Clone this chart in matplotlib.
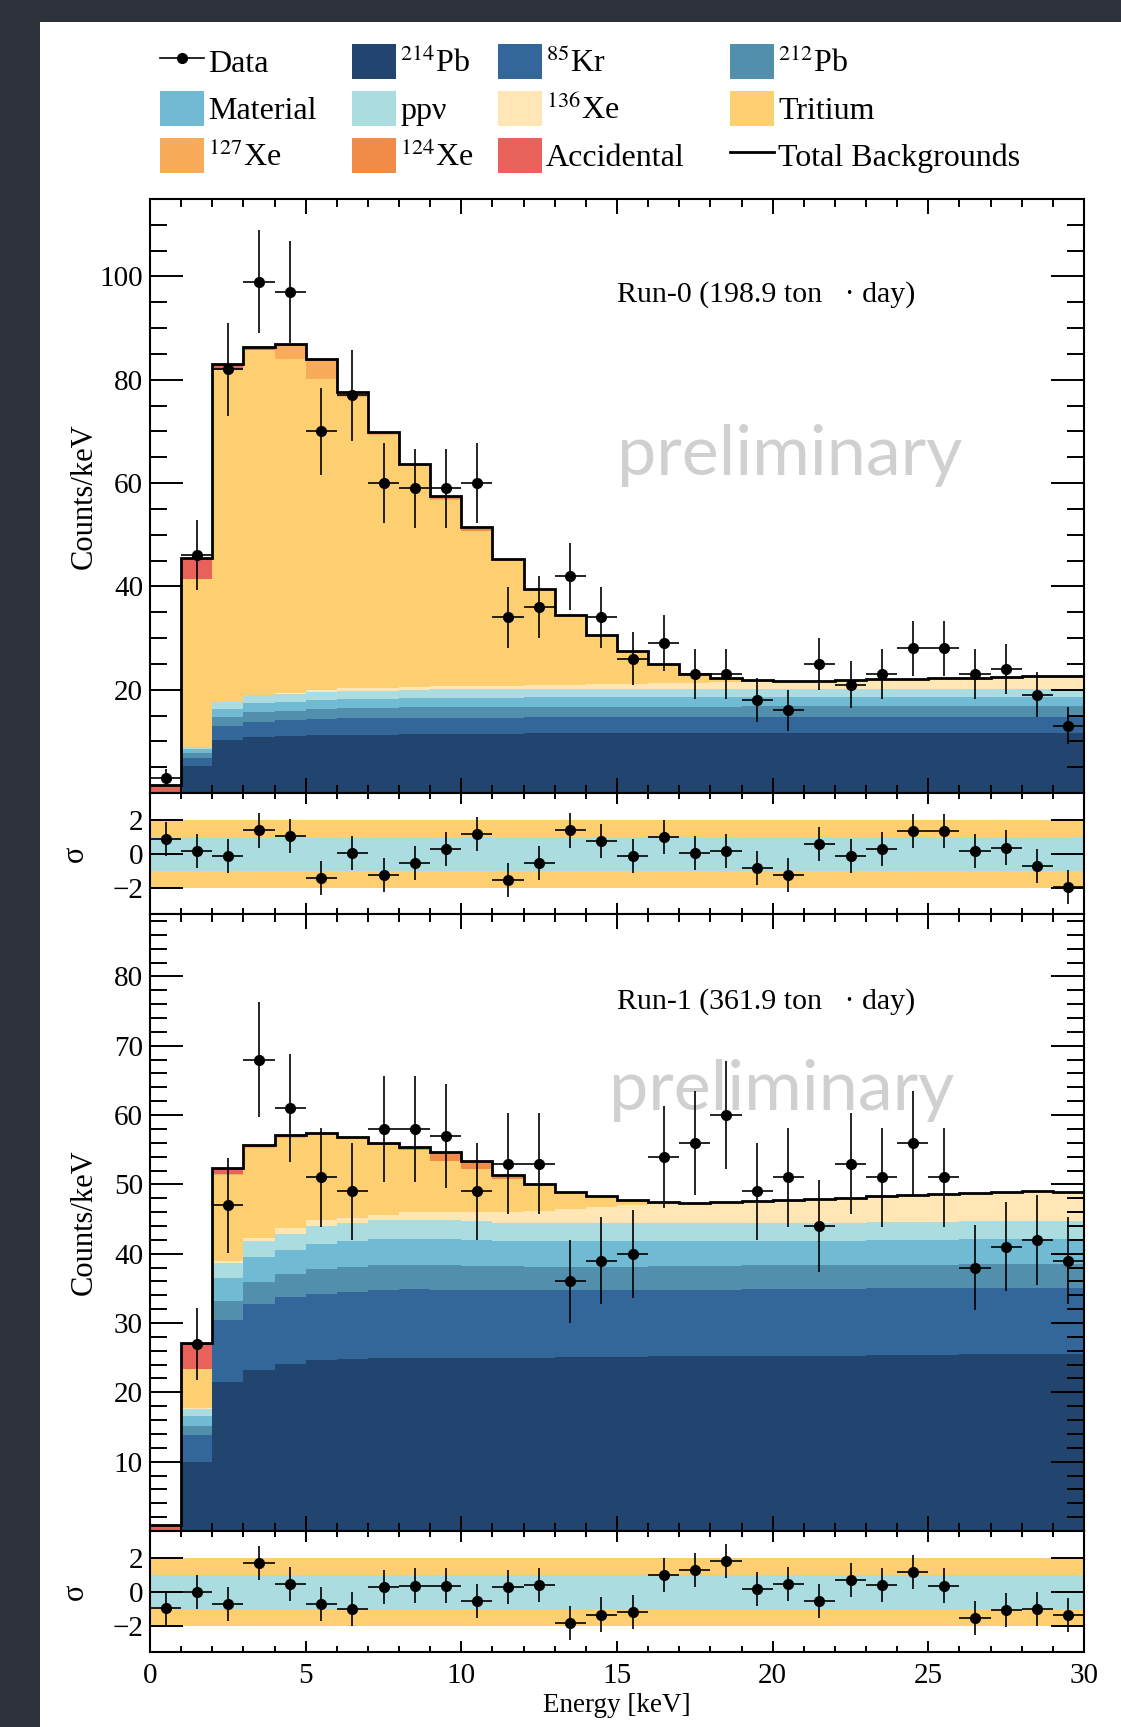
import numpy as np
import matplotlib
matplotlib.use('Agg')
import matplotlib.pyplot as plt
from matplotlib.patches import Patch, Rectangle
from matplotlib.lines import Line2D
from matplotlib.ticker import MultipleLocator, FixedLocator

plt.rcParams['font.family'] = ['Liberation Serif', 'DejaVu Serif']
plt.rcParams['mathtext.fontset'] = 'stix'

# 1 keV bins from 0 to 30 keV
bin_edges = np.arange(0, 31, 1)
bin_centers = bin_edges[:-1] + 0.5

# ---------------- Run-0 ----------------
data_run0 = [3, 46, 82, 99, 97, 70, 77, 60, 59, 59, 60, 34, 36, 42, 34,
             26, 29, 23, 23, 18, 16, 25, 21, 23, 28, 28, 23, 24, 19, 13]
pb214_run0 = [0, 5.3, 10.3, 10.8, 11.0, 11.2, 11.3, 11.3, 11.5, 11.5, 11.5, 11.5, 11.6, 11.6, 11.6,
              11.6, 11.6, 11.6, 11.6, 11.7, 11.7, 11.7, 11.7, 11.7, 11.7, 11.7, 11.7, 11.7, 11.7, 11.7]
kr85_run0 = [0, 1.4, 2.7, 3.0, 3.1, 3.2, 3.2, 3.2, 3.1, 3.1, 3.1, 3.1, 3.1, 3.1, 3.1,
             3.1, 3.1, 3.1, 3.1, 3.1, 3.1, 3.1, 3.1, 3.1, 3.1, 3.1, 3.1, 3.1, 3.1, 3.1]
pb212_run0 = [0, 1.1, 1.8, 1.8, 1.8, 1.8, 1.9, 1.9, 2.0, 2.0, 2.0, 2.0, 2.0, 2.0, 2.0,
              2.0, 2.0, 2.0, 2.0, 2.0, 2.0, 2.0, 2.0, 2.0, 2.0, 2.0, 2.0, 2.0, 2.0, 2.0]
material_run0 = [0, 0.8, 1.5, 1.8, 1.8, 1.8, 1.8, 1.8, 1.8, 1.8, 1.8, 1.8, 1.8, 1.8, 1.8,
                 1.8, 1.8, 1.8, 1.8, 1.7, 1.7, 1.7, 1.7, 1.7, 1.7, 1.7, 1.7, 1.7, 1.7, 1.7]
ppv_run0 = [0, 0.4, 1.3, 1.5, 1.5, 1.6, 1.6, 1.6, 1.6, 1.7, 1.7, 1.7, 1.7, 1.7, 1.7,
            1.7, 1.7, 1.7, 1.7, 1.7, 1.7, 1.7, 1.7, 1.7, 1.7, 1.7, 1.7, 1.7, 1.7, 1.7]
xe136_run0 = [0, 0, 0.1, 0.15, 0.2, 0.4, 0.45, 0.5, 0.6, 0.6, 0.7, 0.7, 0.8, 0.8, 0.9,
              0.9, 1.0, 1.1, 1.2, 1.3, 1.4, 1.5, 1.6, 1.8, 1.9, 2.0, 2.1, 2.3, 2.4, 2.5]
tritium_run0 = [0, 32.5, 64.2, 66.7, 64.6, 60.2, 56.4, 49.1, 42.7, 36.1, 30.0, 24.4, 18.4, 13.4, 9.4,
                6.2, 3.6, 1.7, 0.8, 0.3, 0.1, 0, 0, 0, 0, 0, 0, 0, 0, 0]
xe127_run0 = [0, 0, 0, 0.1, 2.6, 3.5, 0.8, 0.3, 0.2, 0.1, 0, 0, 0, 0, 0,
              0, 0, 0, 0, 0, 0, 0, 0, 0, 0, 0, 0, 0, 0, 0]
xe124_run0 = [0, 0, 0, 0, 0, 0, 0, 0, 0, 0.4, 0.5, 0, 0, 0, 0,
              0, 0, 0, 0, 0, 0, 0, 0, 0, 0, 0, 0, 0, 0, 0]
acc_run0 = [1.5, 4.0, 1.1, 0.5, 0.3, 0.3, 0.2, 0.2, 0.2, 0.2, 0.2, 0.1, 0.1, 0.1, 0.1,
            0.1, 0.1, 0.1, 0.1, 0, 0, 0, 0, 0, 0, 0, 0, 0, 0, 0]
pull_run0 = [0.9, 0.2, -0.1, 1.4, 1.1, -1.4, 0.1, -1.2, -0.5, 0.3, 1.2, -1.5, -0.5, 1.4, 0.8,
             -0.1, 1.0, 0.1, 0.2, -0.8, -1.2, 0.6, -0.1, 0.3, 1.35, 1.35, 0.2, 0.4, -0.7, -1.9]

# ---------------- Run-1 ----------------
data_run1 = [0, 27, 47, 68, 61, 51, 49, 58, 58, 57, 49, 53, 53, 36, 39,
             40, 54, 56, 60, 49, 51, 44, 53, 51, 56, 51, 38, 41, 42, 39]
pb214_run1 = [0, 9.9, 21.5, 23.2, 24.1, 24.6, 24.8, 25.0, 25.0, 25.0, 25.0, 25.0, 25.0, 25.1, 25.1,
              25.1, 25.2, 25.2, 25.2, 25.3, 25.3, 25.3, 25.3, 25.4, 25.4, 25.4, 25.5, 25.5, 25.5, 25.5]
kr85_run1 = [0, 3.9, 8.9, 9.6, 9.6, 9.6, 9.7, 9.8, 9.9, 9.8, 9.7, 9.7, 9.7, 9.6, 9.6,
             9.6, 9.6, 9.6, 9.6, 9.6, 9.6, 9.6, 9.6, 9.6, 9.6, 9.6, 9.6, 9.6, 9.6, 9.6]
pb212_run1 = [0, 1.4, 2.8, 3.1, 3.4, 3.6, 3.6, 3.5, 3.4, 3.5, 3.5, 3.5, 3.4, 3.4, 3.4,
              3.4, 3.4, 3.4, 3.4, 3.4, 3.4, 3.4, 3.4, 3.4, 3.4, 3.4, 3.4, 3.4, 3.4, 3.4]
material_run1 = [0, 1.4, 3.3, 3.6, 3.4, 3.6, 3.7, 3.8, 3.8, 3.8, 3.8, 3.7, 3.7, 3.8, 3.7,
                 3.8, 3.6, 3.6, 3.6, 3.6, 3.6, 3.6, 3.6, 3.6, 3.6, 3.6, 3.6, 3.6, 3.6, 3.6]
ppv_run1 = [0, 1.0, 2.2, 2.4, 2.4, 2.6, 2.7, 2.7, 2.8, 2.8, 2.7, 2.6, 2.6, 2.6, 2.6,
            2.6, 2.6, 2.6, 2.6, 2.6, 2.6, 2.6, 2.6, 2.6, 2.6, 2.6, 2.6, 2.6, 2.6, 2.6]
xe136_run1 = [0, 0.1, 0.3, 0.3, 0.8, 0.8, 0.7, 0.8, 1.1, 1.1, 1.3, 1.5, 1.7, 1.9, 2.3,
              2.5, 2.8, 2.8, 3.1, 3.1, 3.3, 3.4, 3.6, 3.7, 3.8, 4.0, 4.0, 4.2, 4.3, 4.2]
tritium_run1 = [0, 5.6, 12.4, 13.0, 13.0, 12.3, 11.4, 10.1, 9.0, 7.4, 6.2, 4.8, 3.8, 2.4, 1.5,
                0.7, 0.3, 0.1, 0, 0, 0, 0, 0, 0, 0, 0, 0, 0, 0, 0]
xe127_run1 = [0, 0, 0.1, 0.2, 0.2, 0.2, 0.1, 0, 0, 0, 0, 0, 0, 0, 0,
              0, 0, 0, 0, 0, 0, 0, 0, 0, 0, 0, 0, 0, 0, 0]
xe124_run1 = [0, 0, 0, 0, 0, 0, 0, 0.2, 0.3, 1.2, 1.1, 0.4, 0, 0, 0,
              0, 0, 0, 0, 0, 0, 0, 0, 0, 0, 0, 0, 0, 0, 0]
acc_run1 = [0.8, 3.8, 0.9, 0.3, 0.2, 0.1, 0.1, 0.1, 0.1, 0.1, 0.1, 0.1, 0.1, 0.1, 0.1,
            0.1, 0, 0, 0, 0, 0, 0, 0, 0, 0, 0, 0, 0, 0, 0]
pull_run1 = [-0.9, 0.0, -0.7, 1.7, 0.5, -0.7, -1.0, 0.3, 0.4, 0.4, -0.5, 0.3, 0.45, -1.8, -1.3,
             -1.15, 1.0, 1.3, 1.85, 0.2, 0.5, -0.5, 0.75, 0.45, 1.2, 0.4, -1.5, -1.05, -0.95, -1.35]

component_names = [r'$^{214}$Pb', r'$^{85}$Kr', r'$^{212}$Pb', 'Material', 'ppν',
                   r'$^{136}$Xe', 'Tritium', r'$^{127}$Xe', r'$^{124}$Xe', 'Accidental']
component_colors = ['#21456e', '#336699', '#528fad', '#70bad4', '#aadce0',
                    '#ffe6b4', '#fecf71', '#f8ab5a', '#f08c47', '#e8615a']

run0_layers = [pb214_run0, kr85_run0, pb212_run0, material_run0, ppv_run0,
               xe136_run0, tritium_run0, xe127_run0, xe124_run0, acc_run0]
run1_layers = [pb214_run1, kr85_run1, pb212_run1, material_run1, ppv_run1,
               xe136_run1, tritium_run1, xe127_run1, xe124_run1, acc_run1]

FS_TICK = 21
FS_YLAB = 22
FS_XLAB = 19.5


def style_axis(ax, ylen_major=24, ylen_minor=12, xlen_major=11, xlen_minor=6):
    for sp in ax.spines.values():
        sp.set_linewidth(1.5)
    ax.set_xlim(0, 30)
    ax.xaxis.set_major_locator(MultipleLocator(5))
    ax.xaxis.set_minor_locator(MultipleLocator(1))
    ax.tick_params(which='both', direction='in', top=True, right=True, width=1.4,
                   labelsize=FS_TICK, pad=5)
    ax.tick_params(axis='x', which='major', length=xlen_major)
    ax.tick_params(axis='x', which='minor', length=xlen_minor)
    ax.tick_params(axis='y', which='major', length=ylen_major)
    ax.tick_params(axis='y', which='minor', length=ylen_minor)


def draw_main(ax, layers, data, run_text, ylim, yticks, yminor, prelim_xy):
    base = np.zeros(len(bin_centers))
    for vals, c in zip(layers, component_colors):
        top = base + np.array(vals)
        ax.stairs(top, bin_edges, baseline=base, fill=True, color=c, lw=0.4, zorder=1)
        base = top
    ax.stairs(base, bin_edges, baseline=None, color='k', lw=2.0, zorder=2)

    d = np.array(data, dtype=float)
    m = d > 0
    ax.errorbar(bin_centers[m], d[m], yerr=np.sqrt(d[m]), xerr=0.5, fmt='o', color='k',
                ms=7, elinewidth=1.2, capsize=0, zorder=4)

    ax.text(prelim_xy[0], prelim_xy[1], 'preliminary', family=['Lato', 'DejaVu Sans'],
            color='#d0d0d0', fontsize=50.5, va='baseline', ha='left', zorder=3)
    ax.text(15.0, run_text[1], run_text[0], fontsize=21.5, va='center', ha='left', zorder=5)

    style_axis(ax)
    ax.set_ylim(*ylim)
    ax.yaxis.set_major_locator(FixedLocator(yticks))
    ax.yaxis.set_minor_locator(MultipleLocator(yminor))
    ax.tick_params(labelbottom=False)
    ax.set_ylabel('Counts/keV', fontsize=FS_YLAB)
    ax.yaxis.set_label_coords(-0.055, 0.5)


def draw_pull(ax, pulls, show_x):
    ax.axhspan(-2, 2, color=component_colors[6], lw=0, zorder=0)
    ax.axhspan(-1, 1, color=component_colors[4], lw=0, zorder=0)
    ax.errorbar(bin_centers, pulls, yerr=1.0, xerr=0.5, fmt='o', color='k',
                ms=7, elinewidth=1.2, capsize=0, zorder=4)
    style_axis(ax, xlen_major=8, xlen_minor=4.5)
    ax.set_ylim(-3.5, 3.6)
    ax.yaxis.set_major_locator(FixedLocator([-2, 0, 2]))
    ax.yaxis.set_minor_locator(FixedLocator([]))
    ax.set_ylabel('σ', fontsize=FS_YLAB)
    ax.yaxis.set_label_coords(-0.064, 0.5)
    if show_x:
        ax.tick_params(axis='x', pad=8)
        ax.set_xlabel('Energy [keV]', fontsize=FS_XLAB)
        ax.xaxis.set_label_coords(0.5, -0.335)
    else:
        ax.tick_params(labelbottom=False)


W, H = 1121, 1727
fig = plt.figure(figsize=(W / 100, H / 100), dpi=100)
fig.patch.set_facecolor('#2d323a')
fig.add_artist(Rectangle((40 / W, 0), 1, 1 - 22 / H, transform=fig.transFigure,
                         facecolor='white', edgecolor='none', zorder=-1))

left, width = 150 / W, 934 / W


def px_axes(top_px, bottom_px):
    return fig.add_axes([left, 1 - bottom_px / H, width, (bottom_px - top_px) / H])


ax_main0 = px_axes(199, 793)
ax_pull0 = px_axes(793, 914)
ax_main1 = px_axes(914, 1531)
ax_pull1 = px_axes(1531, 1652)

draw_main(ax_main0, run0_layers, data_run0, ('Run-0 (198.9 ton   · day)', 96.5),
          (0, 115), [20, 40, 60, 80, 100], 5, (15.0, 61.6))
draw_pull(ax_pull0, pull_run0, False)
draw_main(ax_main1, run1_layers, data_run1, ('Run-1 (361.9 ton   · day)', 76.4),
          (0, 89), [10, 20, 30, 40, 50, 60, 70, 80], 2, (14.75, 60.7))
draw_pull(ax_pull1, pull_run1, True)

# legend: one column legend each, placed at the reference column positions
patch = {n: Patch(facecolor=c, edgecolor='none') for n, c in zip(component_names, component_colors)}
h_data = Line2D([], [], color='k', marker='o', ms=7, lw=1.2)
h_total = Line2D([], [], color='k', lw=2.0)
legend_columns = [
    [(h_data, 'Data'), (patch['Material'], 'Material'), (patch[r'$^{127}$Xe'], r'$^{127}$Xe')],
    [(patch[r'$^{214}$Pb'], r'$^{214}$Pb'), (patch['ppν'], 'ppν'), (patch[r'$^{124}$Xe'], r'$^{124}$Xe')],
    [(patch[r'$^{85}$Kr'], r'$^{85}$Kr'), (patch[r'$^{136}$Xe'], r'$^{136}$Xe'),
     (patch['Accidental'], 'Accidental')],
    [(patch[r'$^{212}$Pb'], r'$^{212}$Pb'), (patch['Tritium'], 'Tritium'), (h_total, 'Total Backgrounds')],
]
legend_x_px = [160, 352, 498, 730]
for col, xpx in zip(legend_columns, legend_x_px):
    fig.legend([c[0] for c in col], [c[1] for c in col], ncol=1, frameon=False,
               loc='upper left', bbox_to_anchor=(xpx / W, 1 - 44 / H), fontsize=23,
               handlelength=1.38, handleheight=1.3, handletextpad=0.13,
               labelspacing=0.37, borderpad=0, borderaxespad=0)

fig.savefig('out.png', dpi=100, facecolor=fig.get_facecolor())
